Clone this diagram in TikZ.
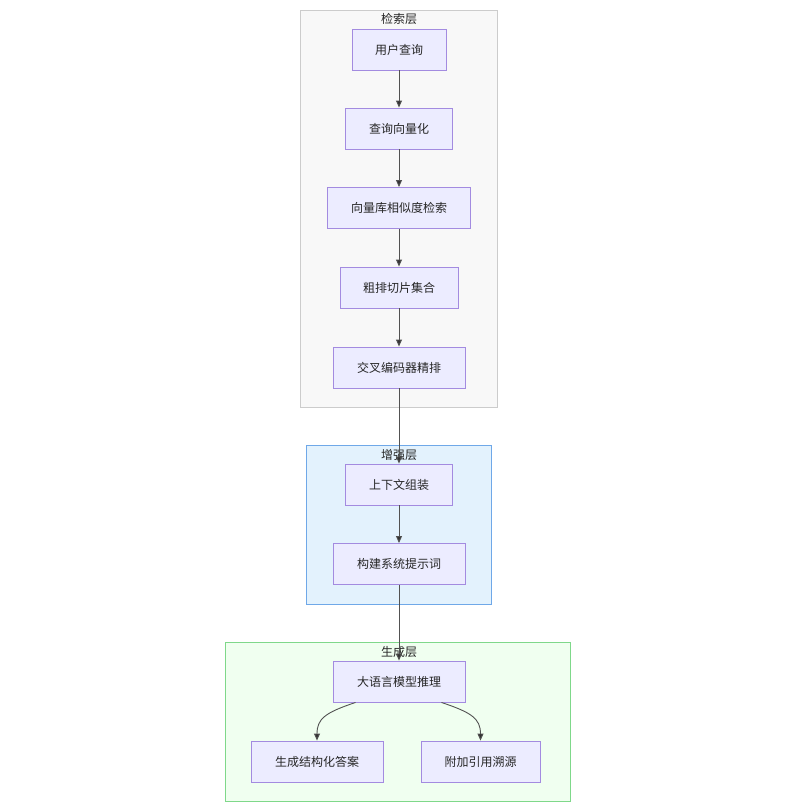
\documentclass[tikz,border=0pt]{standalone}
\usepackage{fontspec}
\setmainfont{Noto Sans CJK SC}
\usetikzlibrary{arrows.meta,calc}
\definecolor{nodefill}{HTML}{ECECFF}
\definecolor{nodeline}{HTML}{A38BE0}
\definecolor{edgecol}{HTML}{333333}
\definecolor{c1fill}{HTML}{F8F8F8}
\definecolor{c1line}{HTML}{CCCCCC}
\definecolor{c2fill}{HTML}{E3F2FD}
\definecolor{c2line}{HTML}{6FA8E8}
\definecolor{c3fill}{HTML}{F0FFF0}
\definecolor{c3line}{HTML}{7FD88A}
\begin{document}
\begin{tikzpicture}[x=1pt,y=-1pt,
  box/.style={draw=nodeline,fill=nodefill,line width=0.9pt,inner sep=0pt,minimum height=41pt,font=\fontsize{12}{14}\selectfont,text=black!85},
  clus/.style={line width=0.8pt},
  clabel/.style={font=\fontsize{12}{14}\selectfont,text=black!85,inner sep=0pt},
  edge/.style={draw=edgecol!85,line width=0.9pt,-{Triangle[length=7pt,width=6pt,fill=edgecol]}}]
\useasboundingbox (0,0) rectangle (796,812);
% clusters
\draw[clus,draw=c1line,fill=c1fill] (300,10) rectangle (497,407);
\draw[clus,draw=c2line,fill=c2fill] (306,445) rectangle (491,604);
\draw[clus,draw=c3line,fill=c3fill] (225,642) rectangle (570,801);
\node[clabel] (l1) at (399,19) {检索层};
\node[clabel] (l2) at (399,455) {增强层};
\node[clabel] (l3) at (399,652) {生成层};
% nodes
\node[box,minimum width=94pt] (q) at (399,49.5) {用户查询};
\node[box,minimum width=107pt] (v) at (399,128.5) {查询向量化};
\node[box,minimum width=143pt] (s) at (399,208) {向量库相似度检索};
\node[box,minimum width=118pt] (c) at (399,287.5) {粗排切片集合};
\node[box,minimum width=132pt] (r) at (399,367.5) {交叉编码器精排};
\node[box,minimum width=107pt] (a) at (399,484.5) {上下文组装};
\node[box,minimum width=132pt] (p) at (399,564) {构建系统提示词};
\node[box,minimum width=132pt] (m) at (399,681.5) {大语言模型推理};
\node[box,minimum width=132pt] (g) at (317,761.5) {生成结构化答案};
\node[box,minimum width=119pt] (t) at (480.5,761.5) {附加引用溯源};
% edges
\draw[edge] (q) -- (v);
\draw[edge] (v) -- (s);
\draw[edge] (s) -- (c);
\draw[edge] (c) -- (r);
\draw[edge] (r) -- (a);
\draw[edge] (a) -- (p);
\draw[edge] (p) -- (m);
\coordinate (ml) at ([xshift=23pt]m.south west);
\coordinate (mr) at ([xshift=-24pt]m.south east);
\draw[edge] (ml) .. controls +(-30,10) and +(0,-22) .. (g.north);
\draw[edge] (mr) .. controls +(30,10) and +(0,-22) .. (t.north);
\end{tikzpicture}
\end{document}
